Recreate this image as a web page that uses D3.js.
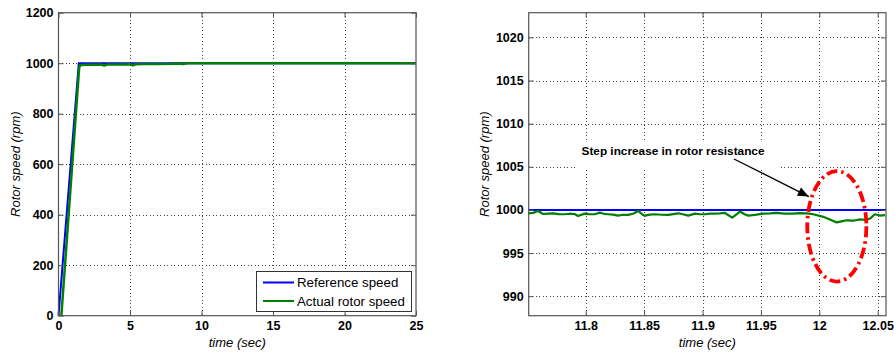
<!DOCTYPE html>
<html>
<head>
<meta charset="utf-8">
<script src="https://cdn.jsdelivr.net/npm/d3@7"></script>
<style>
  html, body { margin: 0; padding: 0; background: #fff; }
  svg { display: block; }
  text { font-family: "Liberation Sans", Arial, Helvetica, sans-serif; }
</style>
</head>
<body>
<svg id="chart" width="894" height="356"></svg>
<script>
// ---- Full run: speed reference vs. measured rotor speed (0–25 s)
const fullTicksX = [0, 5, 10, 15, 20, 25];
const fullTicksY = [0, 200, 400, 600, 800, 1000, 1200];
const refFullTime  = [0, 1.42, 25];
const refFullSpeed = [0, 1000, 1000];
const actFullTime  = [0.2, 1.45, 1.55, 2.0, 3.0, 3.2, 3.4, 4.0, 5.0, 5.2, 5.4, 6.0, 7.0, 8.0, 8.3, 8.7, 9.0, 25];
const actFullSpeed = [0, 985, 993, 994, 995, 991, 995, 995, 996, 992, 996, 997, 997, 998, 999, 997, 1000, 1000];

// ---- Zoomed window around the rotor-resistance step
const zoomTicksX = [11.8, 11.85, 11.9, 11.95, 12, 12.05];
const zoomTickLabelsX = ["11.8", "11.85", "11.9", "11.95", "12", "12.05"];
const zoomTicksY = [990, 995, 1000, 1005, 1010, 1015, 1020];
const refZoomTime  = [11.7512, 12.0571];
const refZoomSpeed = [1000, 1000];
const actZoomTime = [
  11.7506, 11.7550, 11.7592, 11.7635, 11.7680, 11.7720, 11.7770, 11.7820, 11.7860, 11.7906, 11.7934,
  11.7991, 11.8030, 11.8077, 11.8120, 11.8155, 11.8191, 11.8235, 11.8276, 11.8320, 11.8362, 11.8405,
  11.8448, 11.8490, 11.8508, 11.8550, 11.8593, 11.8650, 11.8707, 11.8750, 11.8793, 11.8840, 11.8878,
  11.8936, 11.8980, 11.9021, 11.9065, 11.9107, 11.9150, 11.9192, 11.9255, 11.9321, 11.9360, 11.9392,
  11.9449, 11.9490, 11.9520, 11.9580, 11.9635, 11.9700, 11.9777, 11.9830, 11.9892, 11.9948, 12.0034,
  12.0090, 12.0149, 12.0200, 12.0234, 12.0290, 12.0348, 12.0400, 12.0434, 12.0476, 12.0520, 12.0562
];
const actZoomSpeed = [
  999.61, 999.66, 999.88, 999.53, 999.58, 999.61, 999.52, 999.50, 999.56, 999.53, 999.30,
  999.57, 999.52, 999.50, 999.69, 999.55, 999.50, 999.45, 999.34, 999.44, 999.42, 999.56,
  999.88, 999.42, 999.34, 999.45, 999.50, 999.44, 999.42, 999.52, 999.61, 999.47, 999.34,
  999.57, 999.50, 999.50, 999.58, 999.57, 999.60, 999.65, 999.11, 999.81, 999.50, 999.34,
  999.42, 999.52, 999.57, 999.60, 999.65, 999.58, 999.57, 999.64, 999.61, 999.50, 999.20,
  998.90, 998.55, 998.70, 998.80, 998.75, 998.90, 998.85, 999.00, 999.50, 999.35, 999.40
];

const annotationText = "Step increase in rotor resistance";
const legendLabels = ["Reference speed", "Actual rotor speed"];
const xTitle = "time (sec)";
const yTitle = "Rotor speed (rpm)";

const BLUE = "#0000ff", GREEN = "#008000", AXIS = "#555";
const svg = d3.select("#chart");

function drawPanel(cfg) {
  const g = svg.append("g");
  const x = d3.scaleLinear().domain(cfg.xDomain).range([cfg.left, cfg.right]);
  const y = d3.scaleLinear().domain(cfg.yDomain).range([cfg.bottom, cfg.top]);

  // dotted grid
  const grid = g.append("g").attr("stroke", "#444").attr("stroke-width", 1)
    .attr("stroke-dasharray", "1,2.5").attr("shape-rendering", "crispEdges");
  cfg.xTicks.forEach(v => {
    if (Math.abs(x(v) - cfg.left) < 1 || Math.abs(x(v) - cfg.right) < 1) return;
    grid.append("line").attr("x1", Math.round(x(v)) + 0.5).attr("x2", Math.round(x(v)) + 0.5)
      .attr("y1", cfg.top).attr("y2", cfg.bottom);
  });
  cfg.yTicks.forEach(v => {
    if (Math.abs(y(v) - cfg.top) < 1 || Math.abs(y(v) - cfg.bottom) < 1) return;
    grid.append("line").attr("y1", Math.round(y(v)) + 0.5).attr("y2", Math.round(y(v)) + 0.5)
      .attr("x1", cfg.left).attr("x2", cfg.right);
  });

  if (cfg.beforeLines) cfg.beforeLines(g, x, y);

  const line = d3.line().x(d => x(d[0])).y(d => y(d[1]));
  g.append("path").datum(d3.zip(cfg.refT, cfg.refV))
    .attr("d", line).attr("fill", "none").attr("stroke", BLUE).attr("stroke-width", 2);
  g.append("path").datum(d3.zip(cfg.actT, cfg.actV))
    .attr("d", line).attr("fill", "none").attr("stroke", GREEN).attr("stroke-width", cfg.actWidth)
    .attr("stroke-linejoin", "round");

  // axes with inward ticks on all four sides
  const bottomAx = d3.axisBottom(x).tickValues(cfg.xTicks).tickSizeInner(-5).tickSizeOuter(0)
    .tickPadding(5).tickFormat((d, i) => cfg.xLabels ? cfg.xLabels[i] : String(d));
  const topAx = d3.axisTop(x).tickValues(cfg.xTicks).tickSizeInner(-5).tickSizeOuter(0).tickFormat("");
  const leftAx = d3.axisLeft(y).tickValues(cfg.yTicks).tickSizeInner(-5).tickSizeOuter(0)
    .tickPadding(5).tickFormat(d => String(d));
  const rightAx = d3.axisRight(y).tickValues(cfg.yTicks).tickSizeInner(-5).tickSizeOuter(0).tickFormat("");

  const styleAxis = sel => {
    sel.select(".domain").remove();
    sel.selectAll(".tick line").attr("stroke", AXIS);
    sel.selectAll("text").attr("fill", "#000").attr("font-size", 12.5).attr("font-weight", "bold")
      .style("font-family", '"Liberation Sans", Arial, sans-serif');
  };
  g.append("g").attr("transform", `translate(0,${cfg.bottom})`).call(bottomAx).call(styleAxis);
  g.append("g").attr("transform", `translate(0,${cfg.top})`).call(topAx).call(styleAxis);
  g.append("g").attr("transform", `translate(${cfg.left},0)`).call(leftAx).call(styleAxis);
  g.append("g").attr("transform", `translate(${cfg.right},0)`).call(rightAx).call(styleAxis);

  g.append("rect").attr("x", cfg.left).attr("y", cfg.top)
    .attr("width", cfg.right - cfg.left).attr("height", cfg.bottom - cfg.top)
    .attr("fill", "none").attr("stroke", AXIS).attr("stroke-width", 1.2);

  g.append("text").attr("x", (cfg.left + cfg.right) / 2).attr("y", cfg.bottom + 31.5)
    .attr("text-anchor", "middle").attr("font-size", 13).attr("font-style", "italic").text(xTitle);
  g.append("text")
    .attr("transform", `translate(${cfg.yTitleX},${(cfg.top + cfg.bottom) / 2}) rotate(-90)`)
    .attr("text-anchor", "middle").attr("font-size", 13).attr("font-style", "italic").text(yTitle);

  if (cfg.afterLines) cfg.afterLines(g, x, y);
}

// left panel: whole run with legend
drawPanel({
  left: 58.5, right: 416, top: 12.7, bottom: 315.7,
  xDomain: [0, 25], yDomain: [0, 1200],
  xTicks: fullTicksX, yTicks: fullTicksY,
  refT: refFullTime, refV: refFullSpeed, actT: actFullTime, actV: actFullSpeed,
  actWidth: 2.5, yTitleX: 20,
  afterLines: (g) => {
    const lg = g.append("g");
    lg.append("rect").attr("x", 256.5).attr("y", 271.5).attr("width", 155).attr("height", 40)
      .attr("fill", "#fff").attr("stroke", "#333").attr("stroke-width", 1);
    [BLUE, GREEN].forEach((c, i) => {
      const yy = 282.5 + i * 18.5;
      lg.append("line").attr("x1", 263).attr("x2", 294).attr("y1", yy).attr("y2", yy)
        .attr("stroke", c).attr("stroke-width", 2);
      lg.append("text").attr("x", 297).attr("y", yy + 4.5).attr("font-size", 13.3).text(legendLabels[i]);
    });
  }
});

// right panel: zoom on the step with annotation
drawPanel({
  left: 528.7, right: 886, top: 12.7, bottom: 315.7,
  xDomain: [11.7512, 12.0571], yDomain: [987.74, 1022.86],
  xTicks: zoomTicksX, xLabels: zoomTickLabelsX, yTicks: zoomTicksY,
  refT: refZoomTime, refV: refZoomSpeed, actT: actZoomTime, actV: actZoomSpeed,
  actWidth: 2.2, yTitleX: 489,
  beforeLines: (g, x, y) => {
    // text label sits on a white box over the grid
    g.append("rect").attr("x", 576).attr("y", 142).attr("width", 202).attr("height", 28).attr("fill", "#fff");
    g.append("text").attr("x", 673).attr("y", 154.5).attr("text-anchor", "middle")
      .attr("font-size", 11.8).attr("font-weight", "bold").text(annotationText);
  },
  afterLines: (g, x, y) => {
    // arrow pointing at the start of the disturbance
    const x1 = 734, y1 = 159, x2 = x(11.9910), y2 = y(1001.55);
    g.append("line").attr("x1", x1).attr("y1", y1).attr("x2", x2).attr("y2", y2)
      .attr("stroke", "#000").attr("stroke-width", 1.3);
    const ang = Math.atan2(y2 - y1, x2 - x1), L = 11, W = 4.5;
    const bx = x2 - L * Math.cos(ang), by = y2 - L * Math.sin(ang);
    const px = -Math.sin(ang) * W, py = Math.cos(ang) * W;
    g.append("path").attr("d", `M${x2},${y2}L${bx + px},${by + py}L${bx - px},${by - py}Z`).attr("fill", "#000");
    // dash-dot ellipse around the speed dip
    const cx = x(12.0150), cy = y(998.1);
    g.append("ellipse").attr("cx", cx).attr("cy", cy)
      .attr("rx", x(12.0150) - x(11.9897)).attr("ry", y(998.1) - y(1004.5))
      .attr("fill", "none").attr("stroke", "#ff0000").attr("stroke-width", 3.8)
      .attr("stroke-dasharray", "11,4,2.5,4");
  }
});
</script>
</body>
</html>
